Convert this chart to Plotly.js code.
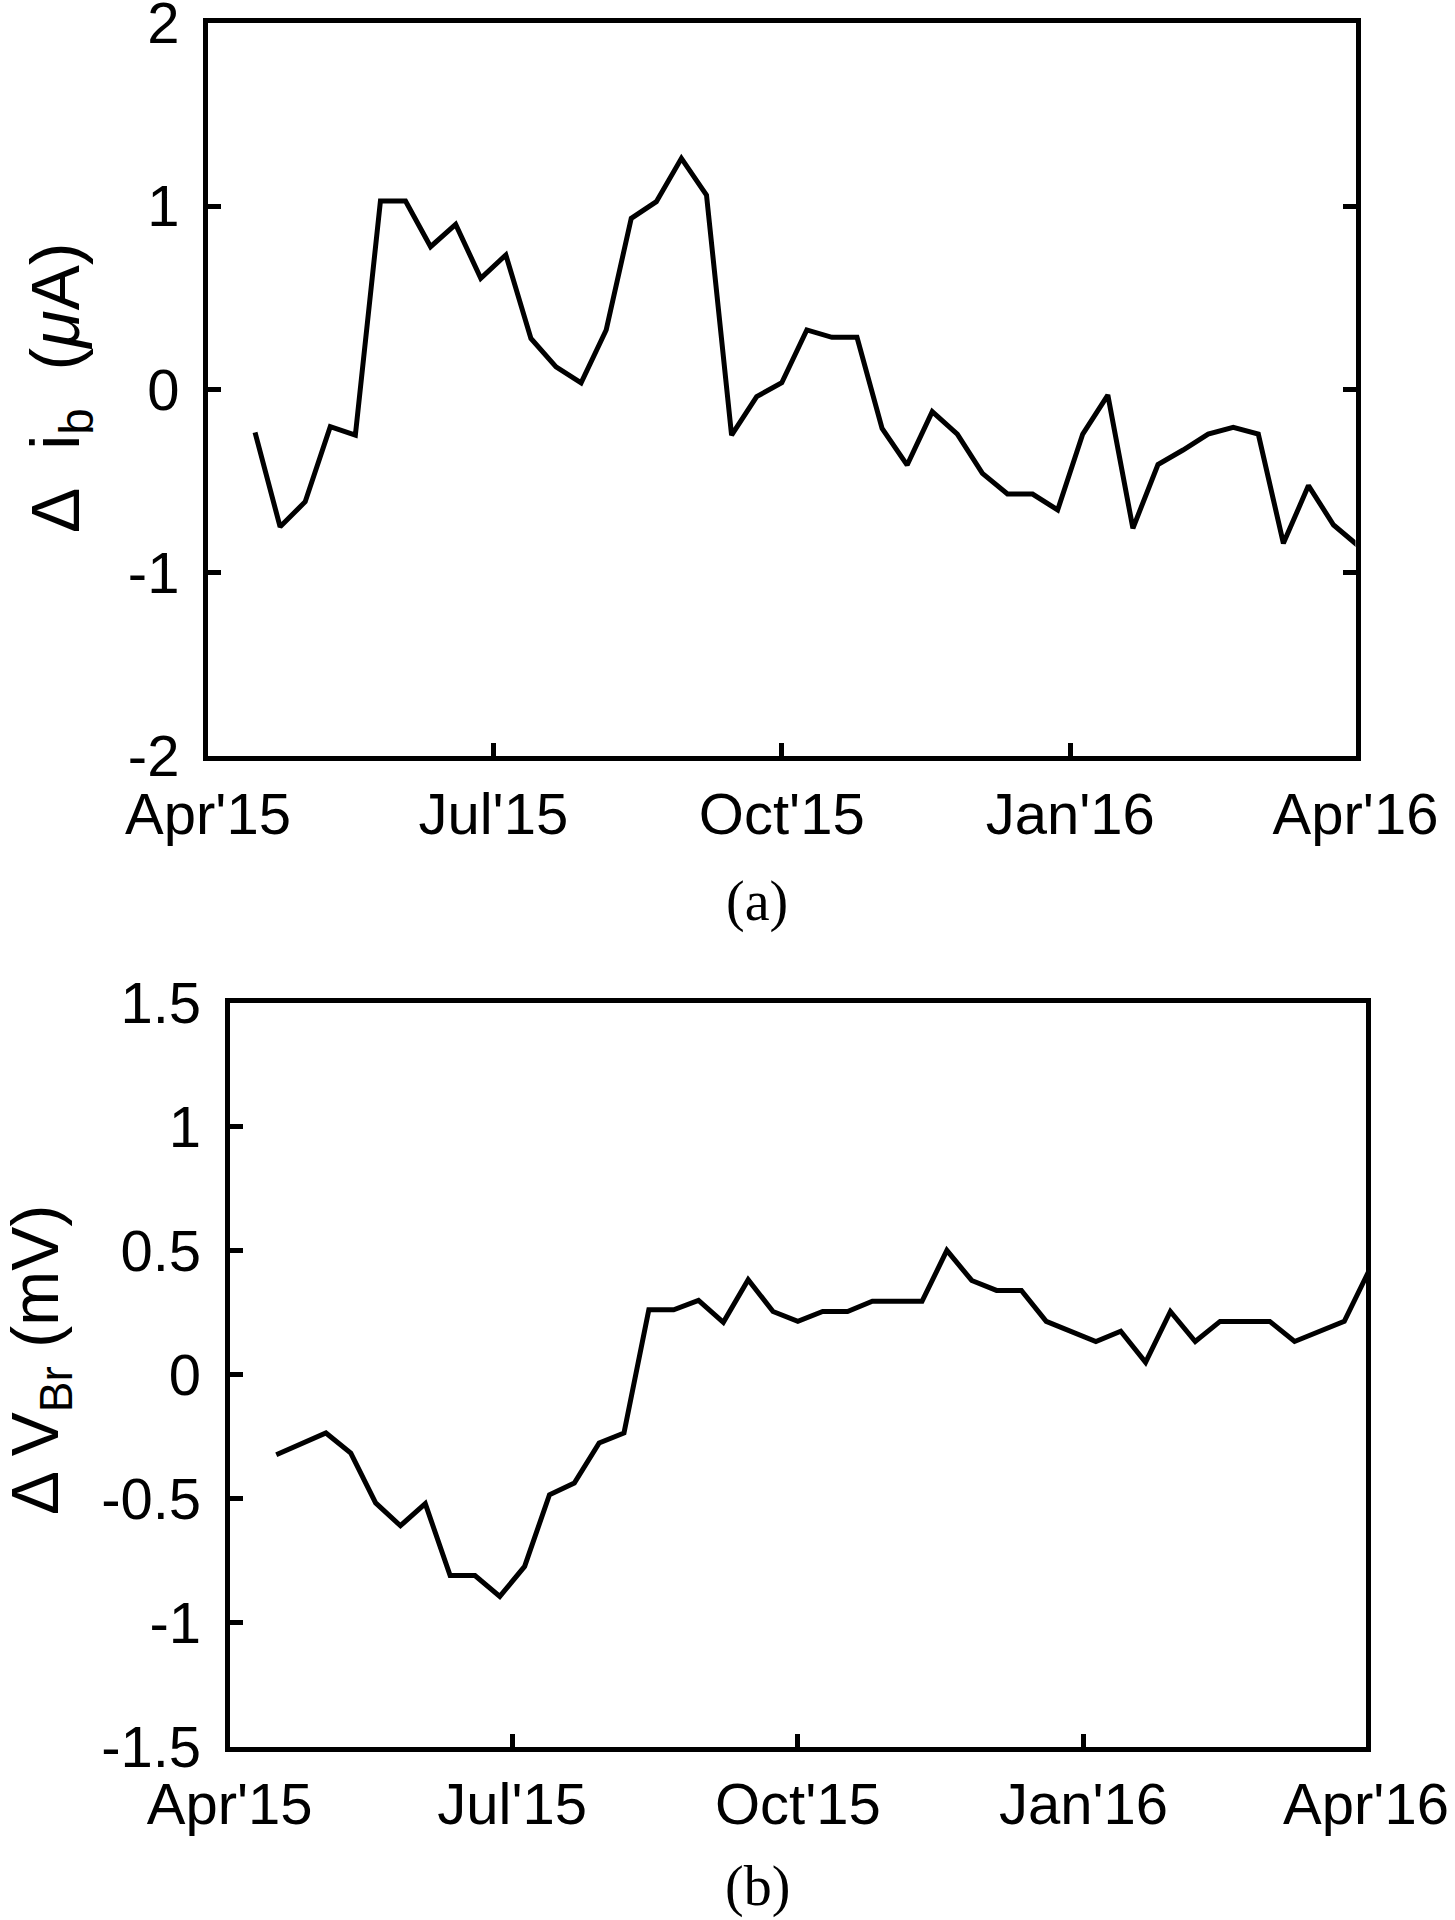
<!DOCTYPE html>
<html>
<head>
<meta charset="utf-8">
<script src="https://cdn.plot.ly/plotly-3.0.1.min.js"></script>
<style>html,body{margin:0;padding:0;background:#fff;}#chart{width:1455px;height:1920px;}</style>
</head>
<body>
<div id="chart"></div>
<script>
// Sample dates (8-day spacing), shared by both panels
const dates = [
  "2015-04-16","2015-04-24","2015-05-02","2015-05-10","2015-05-18","2015-05-26",
  "2015-06-03","2015-06-11","2015-06-19","2015-06-27","2015-07-05","2015-07-13",
  "2015-07-21","2015-07-29","2015-08-06","2015-08-14","2015-08-22","2015-08-30",
  "2015-09-07","2015-09-15","2015-09-23","2015-10-01","2015-10-09","2015-10-17",
  "2015-10-25","2015-11-02","2015-11-10","2015-11-18","2015-11-26","2015-12-04",
  "2015-12-12","2015-12-20","2015-12-28","2016-01-05","2016-01-13","2016-01-21",
  "2016-01-29","2016-02-06","2016-02-14","2016-02-22","2016-03-01","2016-03-09",
  "2016-03-17","2016-03-25","2016-04-02"
];
// Panel (a): Δ i_b (μA)
const deltaIb = [
  -0.235, -0.75, -0.613, -0.204, -0.25, 1.027,
  1.027, 0.778, 0.90, 0.606, 0.733, 0.278,
  0.123, 0.036, 0.324, 0.933, 1.024, 1.26,
  1.06, -0.25, -0.04, 0.036, 0.324, 0.284,
  0.284, -0.213, -0.413, -0.122, -0.244, -0.458,
  -0.571, -0.571, -0.658, -0.244, -0.031, -0.758,
  -0.41, -0.331, -0.244, -0.207, -0.244, -0.84,
  -0.525, -0.74, -0.855
];
// Panel (b): Δ V_Br (mV)
const deltaVbr = [
  -0.323, -0.28, -0.235, -0.316, -0.517, -0.609,
  -0.52, -0.81, -0.81, -0.894, -0.773, -0.484,
  -0.437, -0.275, -0.235, 0.262, 0.262, 0.30,
  0.211, 0.383, 0.255, 0.215, 0.255, 0.255,
  0.296, 0.296, 0.296, 0.501, 0.38, 0.34,
  0.34, 0.215, 0.175, 0.134, 0.175, 0.05,
  0.255, 0.134, 0.215, 0.215, 0.215, 0.134,
  0.175, 0.215, 0.42
];
const xTickVals = ["2015-04-01","2015-07-01","2015-10-01","2016-01-01","2016-04-01"];
const xTickText = ["Apr'15","Jul'15","Oct'15","Jan'16","Apr'16"];
const yTickValsA = [-2,-1,0,1,2];
const yTickTextA = ["-2","-1","0","1","2"];
const yTickValsB = [-1.5,-1,-0.5,0,0.5,1,1.5];
const yTickTextB = ["-1.5","-1","-0.5","0","0.5","1","1.5"];
const yRightTickValsB = [-1,0,1];

const W = 1455, H = 1920;
const sans = "Liberation Sans, Arial, Helvetica, sans-serif";
const serif = "Liberation Serif, Times New Roman, serif";
const tickFont = {family: sans, size: 58, color: "#000"};
const LW = 5;
const NB = "\u00a0";

function xAxis(domain, anchor) {
  return {
    domain: domain, anchor: anchor, type: "date",
    range: ["2015-04-01","2016-04-01"],
    tickmode: "array", tickvals: xTickVals, ticktext: xTickText,
    ticks: "inside", ticklen: 13, tickwidth: LW, tickcolor: "#000",
    showline: true, linewidth: LW, linecolor: "#000", mirror: true,
    showgrid: false, zeroline: false, tickfont: tickFont,
    ticklabelstandoff: 3, ticklabeloverflow: "allow", automargin: false
  };
}
function yAxis(domain, anchor, range, vals, text, mirror) {
  return {
    domain: domain, anchor: anchor, range: range,
    tickmode: "array", tickvals: vals, ticktext: text,
    ticks: "inside", ticklen: 13, tickwidth: LW, tickcolor: "#000",
    showline: true, linewidth: LW, linecolor: "#000", mirror: mirror,
    showgrid: false, zeroline: false, tickfont: tickFont,
    ticklabelstandoff: 12, ticklabeloverflow: "allow", automargin: false
  };
}

const traces = [
  {x: dates, y: deltaIb, type: "scatter", mode: "lines",
   line: {color: "#000", width: LW}, xaxis: "x", yaxis: "y", hoverinfo: "skip"},
  {x: dates, y: deltaVbr, type: "scatter", mode: "lines",
   line: {color: "#000", width: LW}, xaxis: "x2", yaxis: "y2", hoverinfo: "skip"}
];

const layout = {
  width: W, height: H,
  margin: {l: 0, r: 0, t: 0, b: 0},
  paper_bgcolor: "#fff", plot_bgcolor: "#fff",
  showlegend: false,
  xaxis: xAxis([208/W, 1355.5/W], "y"),
  yaxis: yAxis([1 - 756/H, 1 - 22.7/H], "x", [-2, 2], yTickValsA, yTickTextA, "ticks"),
  xaxis2: xAxis([229.7/W, 1366/W], "y2"),
  yaxis2: yAxis([1 - 1746.7/H, 1 - 1002.7/H], "x2", [-1.5, 1.5], yTickValsB, yTickTextB, true),
  yaxis3: {
    overlaying: "y2", side: "right", anchor: "x2", range: [-1.5, 1.5],
    tickmode: "array", tickvals: yRightTickValsB, showticklabels: false,
    ticks: "inside", ticklen: 13, tickwidth: LW, tickcolor: "#000",
    showline: false, showgrid: false, zeroline: false
  },
  annotations: [
    {text: "Δ" + NB + NB + "i<sub>b</sub>" + NB + NB + "(<i>μ</i>A)", textangle: -90, showarrow: false,
     xref: "paper", yref: "paper", x: 60/W, y: 1 - 388/H,
     xanchor: "center", yanchor: "middle", font: {family: sans, size: 68, color: "#000"}},
    {text: "Δ V<sub>Br</sub> (mV)", textangle: -90, showarrow: false,
     xref: "paper", yref: "paper", x: 40/W, y: 1 - 1360/H,
     xanchor: "center", yanchor: "middle", font: {family: sans, size: 66, color: "#000"}},
    {text: "(a)", showarrow: false, xref: "paper", yref: "paper",
     x: 757/W, y: 1 - 901/H, xanchor: "center", yanchor: "middle",
     font: {family: serif, size: 56, color: "#000"}},
    {text: "(b)", showarrow: false, xref: "paper", yref: "paper",
     x: 757/W, y: 0, xanchor: "center", yanchor: "bottom",
     font: {family: serif, size: 56, color: "#000"}}
  ]
};

Plotly.newPlot("chart", traces, layout, {staticPlot: true, displayModeBar: false});
</script>
</body>
</html>
